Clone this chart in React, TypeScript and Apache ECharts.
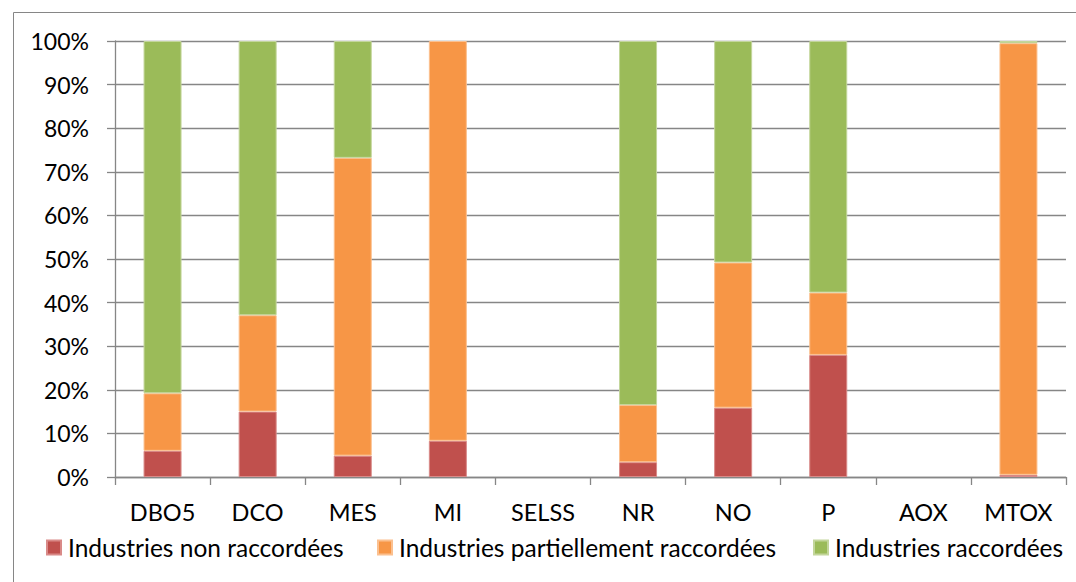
import React, { useEffect, useRef } from "react";
import * as echarts from "echarts";

const categories = ["DBO5", "DCO", "MES", "MI", "SELSS", "NR", "NO", "P", "AOX", "MTOX"];
const nonRaccordees = [6.0, 15.0, 4.9, 8.3, null, 3.4, 15.9, 28.0, null, 0.5];
const partiellement = [13.2, 22.1, 68.3, 91.7, null, 13.1, 33.3, 14.3, null, 99.0];
const raccordees = [80.8, 62.9, 26.8, null, null, 83.5, 50.8, 57.7, null, 0.5];
const seriesNames = [
  "Industries non raccordées",
  "Industries partiellement raccordées",
  "Industries raccordées",
];
const legendLefts = [46, 377, 813];

const FONT = "Lato";
const GRAY = "#868686";

export default function App() {
  const ref = useRef<HTMLDivElement>(null);

  useEffect(() => {
    if (!ref.current) return;
    const chart = echarts.init(ref.current, null, { renderer: "svg" });
    const bar = (name: string, data: (number | null)[], color: string, edge: string) => ({
      name,
      type: "bar",
      stack: "total",
      data,
      barWidth: 38,
      itemStyle: { color, borderColor: edge, borderWidth: 1 },
    });
    // one legend block per series so each entry sits at its own x
    const legends = seriesNames.map((name, i) => ({
      left: legendLefts[i],
      top: 535,
      padding: 0,
      itemWidth: 14,
      itemHeight: 14,
      icon: "rect",
      textStyle: { fontFamily: FONT, fontSize: 24.5, color: "#000", padding: [0, 0, 0, 2] },
      data: [name],
    }));
    chart.setOption({
      animation: false,
      textStyle: { fontFamily: FONT },
      graphic: [
        {
          type: "rect",
          shape: { x: 13.5, y: 12.5, width: 1200, height: 700 },
          style: { fill: "none", stroke: GRAY, lineWidth: 1 },
          silent: true,
          z: -1,
        },
      ],
      grid: { left: 115, right: 10, top: 41, bottom: 105 },
      legend: legends,
      xAxis: {
        type: "category",
        data: categories,
        axisLine: { lineStyle: { color: GRAY, width: 1.3 } },
        axisTick: { show: true, length: 8, lineStyle: { color: GRAY, width: 1.3 } },
        axisLabel: { color: "#000", fontSize: 23.5, fontFamily: FONT, margin: 23 },
      },
      yAxis: {
        type: "value",
        min: 0,
        max: 100,
        interval: 10,
        axisLine: { show: true, lineStyle: { color: GRAY, width: 1.3 } },
        axisTick: { show: true, length: 8, lineStyle: { color: GRAY, width: 1.3 } },
        splitLine: { lineStyle: { color: GRAY, width: 1.3 } },
        axisLabel: {
          color: "#000",
          fontSize: 23,
          fontFamily: FONT,
          margin: 26,
          formatter: "{value}%",
        },
      },
      series: [
        bar(seriesNames[0], nonRaccordees, "#C0504D", "#D98A88"),
        bar(seriesNames[1], partiellement, "#F79646", "#FBC08F"),
        bar(seriesNames[2], raccordees, "#9BBB59", "#C3D69B"),
      ],
    });
    return () => chart.dispose();
  }, []);

  return (
    <div
      ref={ref}
      style={{ position: "absolute", left: 0, top: 0, width: 1076, height: 582, background: "#fff" }}
    />
  );
}
